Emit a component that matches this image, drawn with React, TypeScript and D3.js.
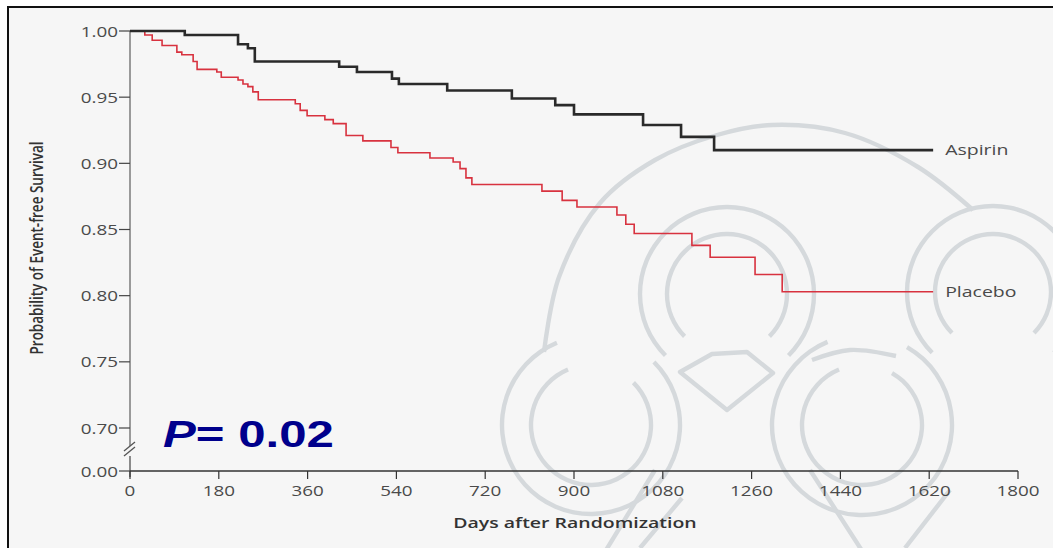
import React from "react";
import * as d3 from "d3";

const WIDTH = 1053;
const HEIGHT = 548;

// Kaplan–Meier step points (day of event, survival after the step)
const ASPIRIN_DAYS = [0, 111, 219, 239, 253, 424, 460, 531, 545, 643, 774, 862, 900, 1040, 1117, 1184];
const ASPIRIN_SURV = [1.0, 0.997, 0.99, 0.987, 0.977, 0.973, 0.969, 0.964, 0.96, 0.955, 0.949, 0.944, 0.937, 0.929, 0.92, 0.91];

const PLACEBO_DAYS = [
  0, 30, 45, 65, 95, 105, 128, 136, 176, 185, 219, 229, 239, 249, 260, 335, 345, 359, 395, 412,
  438, 472, 529, 543, 608, 655, 669, 681, 693, 835, 876, 906, 987, 1005, 1022, 1139, 1176, 1267, 1322,
];
const PLACEBO_SURV = [
  1.0, 0.997, 0.993, 0.989, 0.984, 0.982, 0.977, 0.971, 0.969, 0.965, 0.963, 0.96, 0.958, 0.954, 0.948,
  0.945, 0.94, 0.936, 0.933, 0.93, 0.921, 0.917, 0.912, 0.908, 0.904, 0.901, 0.896, 0.889, 0.884, 0.879,
  0.872, 0.867, 0.861, 0.854, 0.847, 0.838, 0.829, 0.816, 0.803,
];

const FOLLOW_UP_END = 1628;
const X_TICKS = [0, 180, 360, 540, 720, 900, 1080, 1260, 1440, 1620, 1800];
const Y_TICKS = [0, 0.7, 0.75, 0.8, 0.85, 0.9, 0.95, 1.0];
const SERIES = ["Aspirin", "Placebo"];
const P_VALUE = "0.02";

const FONT = "'Open Sans', 'DejaVu Sans', sans-serif";
const STRETCH = 1.3;

type Pt = [number, number];

function Stretched({ x, y, children, anchor = "start", size = 15, weight = 400, fill = "#4a4a4a", rotate = 0 }: any) {
  return (
    <g transform={`translate(${x},${y}) scale(${STRETCH},1) rotate(${rotate})`}>
      <text textAnchor={anchor} fontFamily={FONT} fontSize={size} fontWeight={weight} fill={fill}>
        {children}
      </text>
    </g>
  );
}

// faint emblem printed behind the plot
function Watermark() {
  const band = (r: number, a0: number, a1: number) =>
    d3.arc()({ innerRadius: r - 2.2, outerRadius: r + 2.2, startAngle: a0, endAngle: a1 }) as string;
  const bigArc = d3.line().curve(d3.curveCatmullRom)([
    [544, 352], [559, 277], [600, 203], [655, 160], [717, 135], [772, 125], [845, 133], [918, 167], [973, 210],
  ] as Pt[]) as string;
  const shield = d3.line().curve(d3.curveLinearClosed)([
    [680, 372], [712, 354], [747, 352], [773, 373], [727, 410],
  ] as Pt[]) as string;
  const crescent = d3.line().curve(d3.curveCatmullRom)([[812, 360], [850, 350], [896, 356]] as Pt[]) as string;
  const rings = [
    { cx: 727, cy: 294, R: 87, r: 60, a0: (5 * Math.PI) / 4, a1: (11 * Math.PI) / 4 },
    { cx: 993, cy: 292, R: 86, r: 58, a0: (5 * Math.PI) / 4, a1: (11 * Math.PI) / 4 },
    { cx: 591, cy: 425, R: 89, r: 60, a0: Math.PI / 4, a1: (15 * Math.PI) / 8 },
    { cx: 862, cy: 425, R: 90, r: 60, a0: Math.PI / 6, a1: (15 * Math.PI) / 8 },
  ];
  const col = "#d5d9dc";
  return (
    <g>
      {rings.map((g, i) => (
        <g key={i} transform={`translate(${g.cx},${g.cy})`} fill={col}>
          <path d={band(g.R, g.a0, g.a1)} />
          <path d={band(g.r, g.a0, g.a1)} />
        </g>
      ))}
      <g fill="none" stroke={col} strokeWidth={4.4} strokeLinejoin="round">
        <path d={bigArc} />
        <path d={shield} />
        <path d={crescent} />
        <path d="M640,548 L682,498 M600,560 L655,470 M868,560 L810,470 M905,548 L950,490" />
      </g>
    </g>
  );
}

export default function App() {
  const x = d3.scaleLinear().domain([0, 1800]).range([130, 1018]);
  // broken axis: 0.00 sits just below 0.70
  const y = d3.scaleLinear().domain([0, 0.7, 1.0]).range([471, 428, 31]);

  const step = d3
    .line<Pt>()
    .x((d) => x(d[0]))
    .y((d) => y(d[1]))
    .curve(d3.curveStepAfter);

  const toPoints = (days: number[], surv: number[]): Pt[] => [
    ...days.map((d, i) => [d, surv[i]] as Pt),
    [FOLLOW_UP_END, surv[surv.length - 1]],
  ];

  const aspirin = toPoints(ASPIRIN_DAYS, ASPIRIN_SURV);
  const placebo = toPoints(PLACEBO_DAYS, PLACEBO_SURV);

  const x0 = x(0);
  const yBase = y(0);
  const yBreak = y(0.7) + 22;

  return (
    <svg
      width={WIDTH}
      height={HEIGHT}
      style={{ position: "absolute", left: 0, top: 0, display: "block" }}
      xmlns="http://www.w3.org/2000/svg"
    >
      <rect x={0} y={0} width={WIDTH} height={HEIGHT} fill="#ffffff" />
      <rect x={8} y={7} width={WIDTH + 40} height={HEIGHT + 40} fill="#f6f6f6" stroke="#111" strokeWidth={2} />

      <Watermark />

      {/* y axis (broken) */}
      <line x1={x0} x2={x0} y1={y(1)} y2={yBreak - 4} stroke="#9a9a9a" strokeWidth={2} />
      <line x1={x0} x2={x0} y1={yBreak + 6} y2={yBase + 6} stroke="#444" strokeWidth={1.2} />
      <line x1={x0 - 6} y1={yBreak + 1} x2={x0 + 5} y2={yBreak - 8} stroke="#555" strokeWidth={1.3} />
      <line x1={x0 - 6} y1={yBreak + 6} x2={x0 + 5} y2={yBreak - 3} stroke="#555" strokeWidth={1.3} />
      {Y_TICKS.map((t) => (
        <g key={t}>
          <line x1={x0 - 11} x2={x0} y1={y(t)} y2={y(t)} stroke="#444" strokeWidth={1.2} />
          <Stretched x={x0 - 12} y={y(t) + 5.5} anchor="end" size={14.5}>
            {t.toFixed(2)}
          </Stretched>
        </g>
      ))}

      {/* x axis */}
      <line x1={x0} x2={x(1800)} y1={yBase} y2={yBase} stroke="#333" strokeWidth={1.5} />
      {X_TICKS.map((t) => (
        <g key={t}>
          <line x1={x(t)} x2={x(t)} y1={yBase} y2={yBase + 8} stroke="#333" strokeWidth={1.2} />
          <Stretched x={x(t)} y={yBase + 25} anchor="middle" size={14.5}>
            {t}
          </Stretched>
        </g>
      ))}

      <Stretched x={575} y={528} anchor="middle" size={15} weight={600} fill="#333">
        Days after Randomization
      </Stretched>
      <Stretched x={43} y={248} anchor="middle" size={13.5} weight={600} fill="#333" rotate={-90}>
        Probability of Event-free Survival
      </Stretched>

      {/* survival curves */}
      <path d={step(placebo) as string} fill="none" stroke="#d8323f" strokeWidth={1.6} />
      <path d={step(aspirin) as string} fill="none" stroke="#2a2a2a" strokeWidth={2.6} />

      <Stretched x={x(FOLLOW_UP_END) + 12} y={y(ASPIRIN_SURV[ASPIRIN_SURV.length - 1]) + 5} size={15}>
        {SERIES[0]}
      </Stretched>
      <Stretched x={x(FOLLOW_UP_END) + 12} y={y(PLACEBO_SURV[PLACEBO_SURV.length - 1]) + 5} size={15}>
        {SERIES[1]}
      </Stretched>

      {/* log-rank P value */}
      <g transform={`translate(163,447) scale(1.33,1)`}>
        <text fontFamily="'Liberation Sans', Arial, sans-serif" fontSize={37} fontWeight={700} fill="#00008c">
          <tspan fontStyle="italic">P</tspan>
          <tspan>= {P_VALUE}</tspan>
        </text>
      </g>
    </svg>
  );
}
